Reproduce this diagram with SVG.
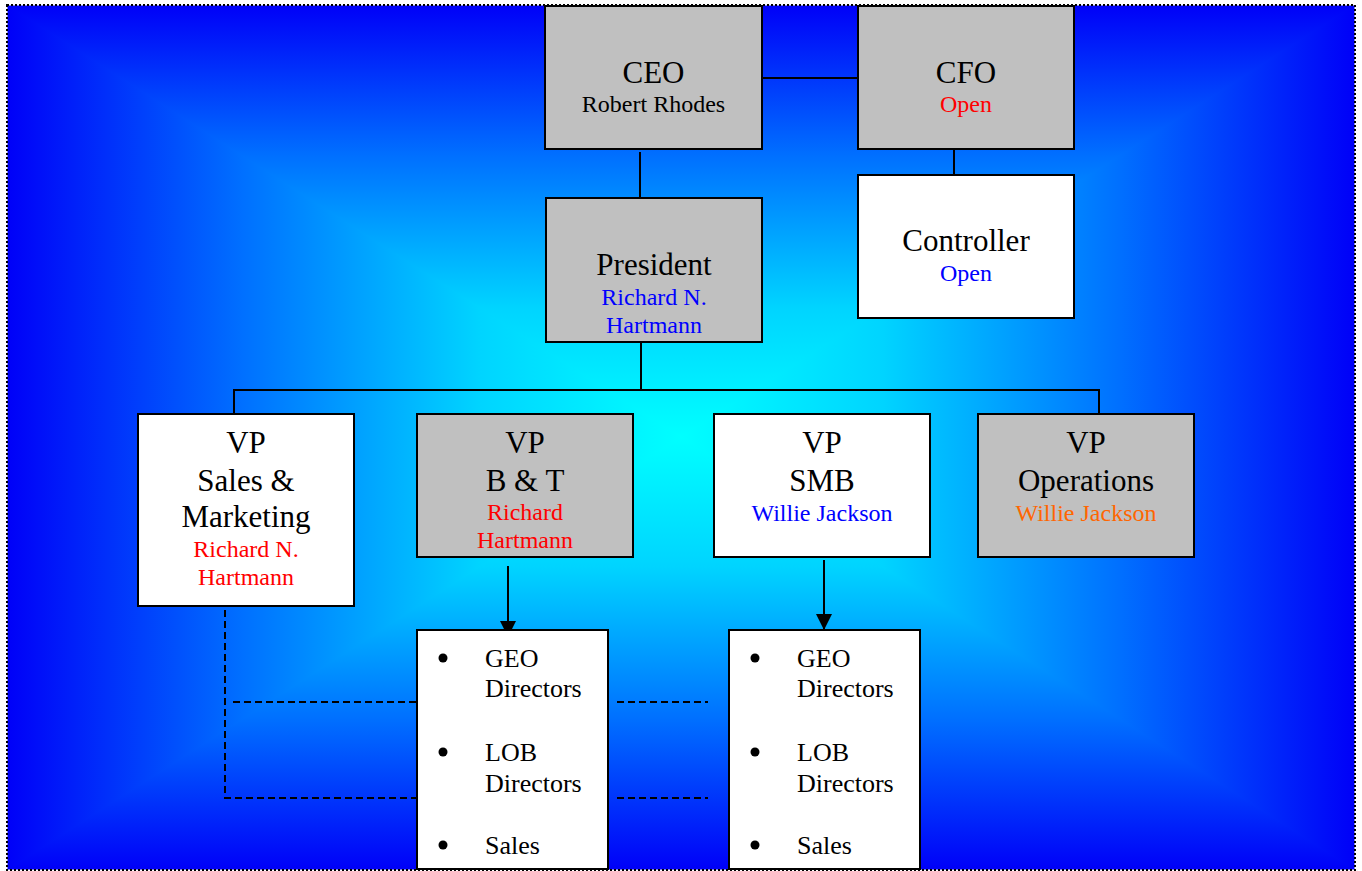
<svg xmlns="http://www.w3.org/2000/svg" width="1362" height="871" viewBox="0 0 1362 871">
<defs>
<linearGradient id="gTop" gradientUnits="userSpaceOnUse" x1="0" y1="5" x2="0" y2="437">
<stop offset="0" stop-color="#0000F8"/><stop offset="0.35" stop-color="#0070FF"/><stop offset="0.7" stop-color="#00D4FF"/><stop offset="1" stop-color="#00FFFF"/>
</linearGradient>
<linearGradient id="gBot" gradientUnits="userSpaceOnUse" x1="0" y1="870" x2="0" y2="437">
<stop offset="0" stop-color="#0000F8"/><stop offset="0.35" stop-color="#0070FF"/><stop offset="0.7" stop-color="#00D4FF"/><stop offset="1" stop-color="#00FFFF"/>
</linearGradient>
<linearGradient id="gLeft" gradientUnits="userSpaceOnUse" x1="7" y1="0" x2="681" y2="0">
<stop offset="0" stop-color="#0000F8"/><stop offset="0.35" stop-color="#0070FF"/><stop offset="0.7" stop-color="#00D4FF"/><stop offset="1" stop-color="#00FFFF"/>
</linearGradient>
<linearGradient id="gRight" gradientUnits="userSpaceOnUse" x1="1355" y1="0" x2="681" y2="0">
<stop offset="0" stop-color="#0000F8"/><stop offset="0.35" stop-color="#0070FF"/><stop offset="0.7" stop-color="#00D4FF"/><stop offset="1" stop-color="#00FFFF"/>
</linearGradient>
<marker id="arrow" viewBox="0 0 16 16" refX="16" refY="8" markerWidth="16" markerHeight="16" markerUnits="userSpaceOnUse" orient="auto">
<path d="M0,0 L16,8 L0,16 Z" fill="#000"/>
</marker>
<style>
.box{stroke:#000;stroke-width:2}
.gray{fill:#C0C0C0}
.white{fill:#FFFFFF}
.t{font-family:"Liberation Serif","Times New Roman",serif;text-anchor:middle;fill:#000}
.title{font-size:31px}
.name{font-size:24px}
.li{font-family:"Liberation Serif","Times New Roman",serif;font-size:26px;fill:#000}
.red{fill:#FF0000}
.blue{fill:#0000FF}
.orange{fill:#FF6600}
.ln{stroke:#000;stroke-width:2;fill:none}
.dash{stroke:#000;stroke-width:2;fill:none;stroke-dasharray:7,4}
</style>
</defs>
<rect width="1362" height="871" fill="#FFFFFF"/>
<g id="background">
<rect x="7" y="5" width="1348" height="865" fill="#0060FF"/>
<polygon points="7,5 1355,5 681,437" fill="url(#gTop)" stroke="url(#gTop)" stroke-width="1.5"/>
<polygon points="7,870 1355,870 681,437" fill="url(#gBot)" stroke="url(#gBot)" stroke-width="1.5"/>
<polygon points="7,5 7,870 681,437" fill="url(#gLeft)" stroke="url(#gLeft)" stroke-width="1.5"/>
<polygon points="1355,5 1355,870 681,437" fill="url(#gRight)" stroke="url(#gRight)" stroke-width="1.5"/>
<rect x="6" y="4" width="1350" height="867" fill="none" stroke="#FFFFFF" stroke-width="3"/>
<rect x="7" y="5" width="1348" height="865" fill="none" stroke="#000" stroke-width="2" stroke-dasharray="2,2"/>
</g>
<g id="connectors">
<line class="ln" x1="762" y1="78" x2="858" y2="78"/>
<line class="ln" x1="640" y1="152" x2="640" y2="202"/>
<line class="ln" x1="954" y1="149" x2="954" y2="175"/>
<line class="ln" x1="641" y1="342" x2="641" y2="390"/>
<polyline class="ln" points="234,414 234,390 1099,390 1099,414"/>
<line class="ln" x1="508" y1="566" x2="508" y2="637" marker-end="url(#arrow)"/>
<line class="ln" x1="824" y1="560" x2="824" y2="630" marker-end="url(#arrow)"/>
<polyline class="dash" points="225,610 225,798 417,798"/>
<line class="dash" x1="233" y1="702" x2="417" y2="702"/>
<line class="ln" x1="415" y1="702" x2="423" y2="702"/>
<line class="ln" x1="415" y1="798" x2="423" y2="798"/>
<line class="dash" x1="617" y1="702" x2="708" y2="702"/>
<line class="dash" x1="617" y1="798" x2="708" y2="798"/>
</g>
<g id="ceo">
<rect class="box gray" x="545" y="6" width="217" height="143"/>
<text class="t title" x="653.5" y="83">CEO</text>
<text class="t name" x="653.5" y="112">Robert Rhodes</text>
</g>
<g id="cfo">
<rect class="box gray" x="858" y="6" width="216" height="143"/>
<text class="t title" x="966" y="83">CFO</text>
<text class="t name red" x="966" y="112">Open</text>
</g>
<g id="president">
<rect class="box gray" x="546" y="198" width="216" height="144"/>
<text class="t title" x="654" y="275">President</text>
<text class="t name blue" x="654" y="305">Richard N.</text>
<text class="t name blue" x="654" y="333">Hartmann</text>
</g>
<g id="controller">
<rect class="box white" x="858" y="175" width="216" height="143"/>
<text class="t title" x="966" y="251">Controller</text>
<text class="t name blue" x="966" y="281">Open</text>
</g>
<g id="vp-sales">
<rect class="box white" x="138" y="414" width="216" height="192"/>
<text class="t title" x="246" y="453">VP</text>
<text class="t title" x="246" y="491">Sales &amp;</text>
<text class="t title" x="246" y="527">Marketing</text>
<text class="t name red" x="246" y="557">Richard N.</text>
<text class="t name red" x="246" y="585">Hartmann</text>
</g>
<g id="vp-bt">
<rect class="box gray" x="417" y="414" width="216" height="143"/>
<text class="t title" x="525" y="453">VP</text>
<text class="t title" x="525" y="491">B &amp; T</text>
<text class="t name red" x="525" y="520">Richard</text>
<text class="t name red" x="525" y="548">Hartmann</text>
</g>
<g id="vp-smb">
<rect class="box white" x="714" y="414" width="216" height="143"/>
<text class="t title" x="822" y="453">VP</text>
<text class="t title" x="822" y="491">SMB</text>
<text class="t name blue" x="822" y="521">Willie Jackson</text>
</g>
<g id="vp-ops">
<rect class="box gray" x="978" y="414" width="216" height="143"/>
<text class="t title" x="1086" y="453">VP</text>
<text class="t title" x="1086" y="491">Operations</text>
<text class="t name orange" x="1086" y="521">Willie Jackson</text>
</g>
<g id="list-bt">
<rect class="box white" x="417" y="630" width="191" height="239"/>
<circle cx="443" cy="658" r="4.5" fill="#000"/>
<text class="li" x="485" y="667">GEO</text>
<text class="li" x="485" y="697">Directors</text>
<circle cx="443" cy="752" r="4.5" fill="#000"/>
<text class="li" x="485" y="761">LOB</text>
<text class="li" x="485" y="792">Directors</text>
<circle cx="443" cy="845" r="4.5" fill="#000"/>
<text class="li" x="485" y="854">Sales</text>
</g>
<g id="list-smb">
<rect class="box white" x="729" y="630" width="191" height="239"/>
<circle cx="755" cy="658" r="4.5" fill="#000"/>
<text class="li" x="797" y="667">GEO</text>
<text class="li" x="797" y="697">Directors</text>
<circle cx="755" cy="752" r="4.5" fill="#000"/>
<text class="li" x="797" y="761">LOB</text>
<text class="li" x="797" y="792">Directors</text>
<circle cx="755" cy="845" r="4.5" fill="#000"/>
<text class="li" x="797" y="854">Sales</text>
</g>
</svg>
